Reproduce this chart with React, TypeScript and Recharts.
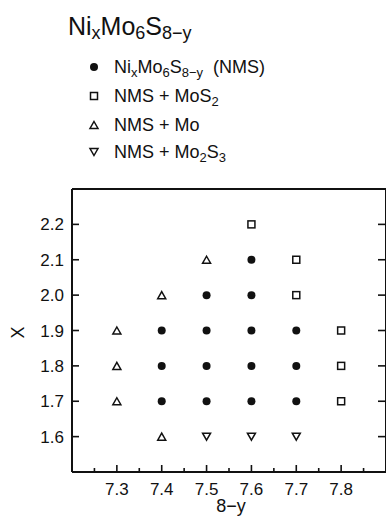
import { Legend, Scatter, ScatterChart, XAxis, YAxis } from "recharts";

// Phase fields of NixMo6S8-y: each point is (8-y, x)
const singleX = [7.4, 7.4, 7.4, 7.5, 7.5, 7.5, 7.5, 7.6, 7.6, 7.6, 7.6, 7.6, 7.7, 7.7, 7.7];
const singleY = [1.7, 1.8, 1.9, 1.7, 1.8, 1.9, 2.0, 1.7, 1.8, 1.9, 2.0, 2.1, 1.7, 1.8, 1.9];

const mos2X = [7.6, 7.7, 7.7, 7.8, 7.8, 7.8];
const mos2Y = [2.2, 2.1, 2.0, 1.9, 1.8, 1.7];

const moX = [7.5, 7.4, 7.3, 7.3, 7.3, 7.4];
const moY = [2.1, 2.0, 1.9, 1.8, 1.7, 1.6];

const mo2s3X = [7.5, 7.6, 7.7];
const mo2s3Y = [1.6, 1.6, 1.6];

const xTicks = [7.2, 7.25, 7.3, 7.35, 7.4, 7.45, 7.5, 7.55, 7.6, 7.65, 7.7, 7.75, 7.8, 7.85, 7.9];
const xLabels = [7.3, 7.4, 7.5, 7.6, 7.7, 7.8];
const yTicks = [1.6, 1.7, 1.8, 1.9, 2.0, 2.1, 2.2];

const FONT = "'Liberation Sans', Arial, sans-serif";
const INK = "#111";

type Kind = "circle" | "square" | "up" | "down";

const toPoints = (xs: number[], ys: number[]) => xs.map((x, i) => ({ x, y: ys[i] }));

function Marker({ kind, cx, cy }: { kind: Kind; cx: number; cy: number }) {
  if (kind === "circle") return <circle cx={cx} cy={cy} r={4} fill={INK} />;
  if (kind === "square")
    return <rect x={cx - 3.5} y={cy - 3.5} width={7} height={7} fill="#fff" stroke={INK} strokeWidth={1.5} />;
  const h = 7;
  const pts =
    kind === "up"
      ? `${cx},${cy - h / 2} ${cx + 4},${cy + h / 2} ${cx - 4},${cy + h / 2}`
      : `${cx},${cy + h / 2} ${cx + 4},${cy - h / 2} ${cx - 4},${cy - h / 2}`;
  return <polygon points={pts} fill="#fff" stroke={INK} strokeWidth={1.5} />;
}

const shapeOf = (kind: Kind) => (props: any) => <Marker kind={kind} cx={props.cx} cy={props.cy} />;

const isMajor = (v: number) => Math.abs(Math.round(v * 10) - v * 10) < 1e-6;

// inward tick marks, drawn as paths from the axis line
const tickPath = (d: string) => <path d={d} stroke={INK} strokeWidth={1.6} fill="none" />;

function BottomTick(props: any) {
  const { x, y, payload } = props;
  const v = payload.value as number;
  const len = isMajor(v) ? 7 : 4;
  const showLabel = xLabels.some((l) => Math.abs(l - v) < 1e-6);
  return (
    <g>
      {tickPath(`M${x},${y}V${y - len}`)}
      {showLabel && (
        <text x={x} y={y + 23} textAnchor="middle" fontSize={17} fontFamily={FONT} fill={INK}>
          {v.toFixed(1)}
        </text>
      )}
    </g>
  );
}

function TopTick(props: any) {
  const { x, y, payload } = props;
  const len = isMajor(payload.value) ? 7 : 4;
  return <g>{tickPath(`M${x},${y}V${y + len}`)}</g>;
}

function LeftTick(props: any) {
  const { x, y, payload } = props;
  return (
    <g>
      {tickPath(`M${x},${y}H${x + 7}`)}
      <text x={x - 8} y={y + 6} textAnchor="end" fontSize={17} fontFamily={FONT} fill={INK}>
        {(payload.value as number).toFixed(1)}
      </text>
    </g>
  );
}

function RightTick(props: any) {
  const { x, y } = props;
  return <g>{tickPath(`M${x},${y}H${x - 8}`)}</g>;
}

const legendRows: { kind: Kind; baseline: number; label: React.ReactNode }[] = [
  {
    kind: "circle",
    baseline: 73,
    label: (
      <>
        Ni<tspan dy={4} fontSize={13}>x</tspan>
        <tspan dy={-4}>Mo</tspan>
        <tspan dy={4} fontSize={13}>6</tspan>
        <tspan dy={-4}>S</tspan>
        <tspan dy={4} fontSize={13}>8−y</tspan>
        <tspan dy={-4}>{"  (NMS)"}</tspan>
      </>
    ),
  },
  {
    kind: "square",
    baseline: 102,
    label: (
      <>
        NMS + MoS<tspan dy={4} fontSize={13}>2</tspan>
      </>
    ),
  },
  { kind: "up", baseline: 131, label: <>NMS + Mo</> },
  {
    kind: "down",
    baseline: 158,
    label: (
      <>
        NMS + Mo<tspan dy={4} fontSize={13}>2</tspan>
        <tspan dy={-4}>S</tspan>
        <tspan dy={4} fontSize={13}>3</tspan>
      </>
    ),
  },
];

function TitleAndLegend() {
  return (
    <svg width={320} height={175} style={{ display: "block" }}>
      <text x={68} y={35} fontSize={25} fontFamily={FONT} fill={INK} style={{ whiteSpace: "pre" }}>
        Ni<tspan dy={4} fontSize={18}>x</tspan>
        <tspan dy={-4}>Mo</tspan>
        <tspan dy={4} fontSize={18}>6</tspan>
        <tspan dy={-4}>S</tspan>
        <tspan dy={4} fontSize={18}>8−y</tspan>
      </text>
      {legendRows.map((row) => (
        <g key={row.kind}>
          <Marker kind={row.kind} cx={94} cy={row.baseline - 6} />
          <text
            x={114}
            y={row.baseline}
            fontSize={18}
            fontFamily={FONT}
            fill={INK}
            style={{ whiteSpace: "pre" }}
          >
            {row.label}
          </text>
        </g>
      ))}
    </svg>
  );
}

export default function App() {
  const axisLine = { stroke: INK, strokeWidth: 2 };

  return (
    <div style={{ position: "absolute", left: 0, top: 0, background: "#fff" }}>
      <ScatterChart width={386} height={518} margin={{ top: 188, right: -1, bottom: 0, left: 0 }}>
        <XAxis
          xAxisId="bottom"
          type="number"
          dataKey="x"
          domain={[7.2, 7.9]}
          ticks={xTicks}
          interval={0}
          allowDataOverflow
          height={46}
          tickSize={0}
          tickMargin={0}
          tickLine={false}
          axisLine={axisLine}
          tick={BottomTick}
          label={{
            content: (p: any) => (
              <text
                x={p.viewBox.x + p.viewBox.width / 2 + 2}
                y={p.viewBox.y + 40}
                textAnchor="middle"
                fontSize={18}
                fontFamily={FONT}
                fill={INK}
              >
                8−y
              </text>
            ),
          }}
        />
        <XAxis
          xAxisId="top"
          orientation="top"
          type="number"
          domain={[7.2, 7.9]}
          ticks={xTicks}
          interval={0}
          allowDataOverflow
          height={1}
          tickSize={0}
          tickMargin={0}
          tickLine={false}
          axisLine={axisLine}
          tick={TopTick}
        />
        <YAxis
          yAxisId="left"
          type="number"
          dataKey="y"
          domain={[1.5, 2.3]}
          ticks={yTicks}
          interval={0}
          allowDataOverflow
          width={72}
          tickSize={0}
          tickMargin={0}
          tickLine={false}
          axisLine={axisLine}
          tick={LeftTick}
          label={{
            content: (p: any) => {
              const cx = 18;
              const cy = p.viewBox.y + p.viewBox.height / 2 + 2;
              return (
                <text
                  x={cx}
                  y={cy}
                  transform={`rotate(-90 ${cx} ${cy})`}
                  textAnchor="middle"
                  dominantBaseline="central"
                  fontSize={18}
                  fontFamily={FONT}
                  fill={INK}
                >
                  X
                </text>
              );
            },
          }}
        />
        <YAxis
          yAxisId="right"
          orientation="right"
          type="number"
          domain={[1.5, 2.3]}
          ticks={yTicks}
          interval={0}
          allowDataOverflow
          width={1}
          tickSize={0}
          tickMargin={0}
          tickLine={false}
          axisLine={axisLine}
          tick={RightTick}
        />
        <Legend
          layout="horizontal"
          verticalAlign="middle"
          align="center"
          wrapperStyle={{ top: 0, left: 0, width: 320, height: 175 }}
          content={() => <TitleAndLegend />}
        />
        <Scatter
          name="NMS"
          xAxisId="bottom"
          yAxisId="left"
          data={toPoints(singleX, singleY)}
          shape={shapeOf("circle")}
          isAnimationActive={false}
        />
        <Scatter
          name="NMS + MoS2"
          xAxisId="bottom"
          yAxisId="left"
          data={toPoints(mos2X, mos2Y)}
          shape={shapeOf("square")}
          isAnimationActive={false}
        />
        <Scatter
          name="NMS + Mo"
          xAxisId="bottom"
          yAxisId="left"
          data={toPoints(moX, moY)}
          shape={shapeOf("up")}
          isAnimationActive={false}
        />
        <Scatter
          name="NMS + Mo2S3"
          xAxisId="bottom"
          yAxisId="left"
          data={toPoints(mo2s3X, mo2s3Y)}
          shape={shapeOf("down")}
          isAnimationActive={false}
        />
      </ScatterChart>
    </div>
  );
}
